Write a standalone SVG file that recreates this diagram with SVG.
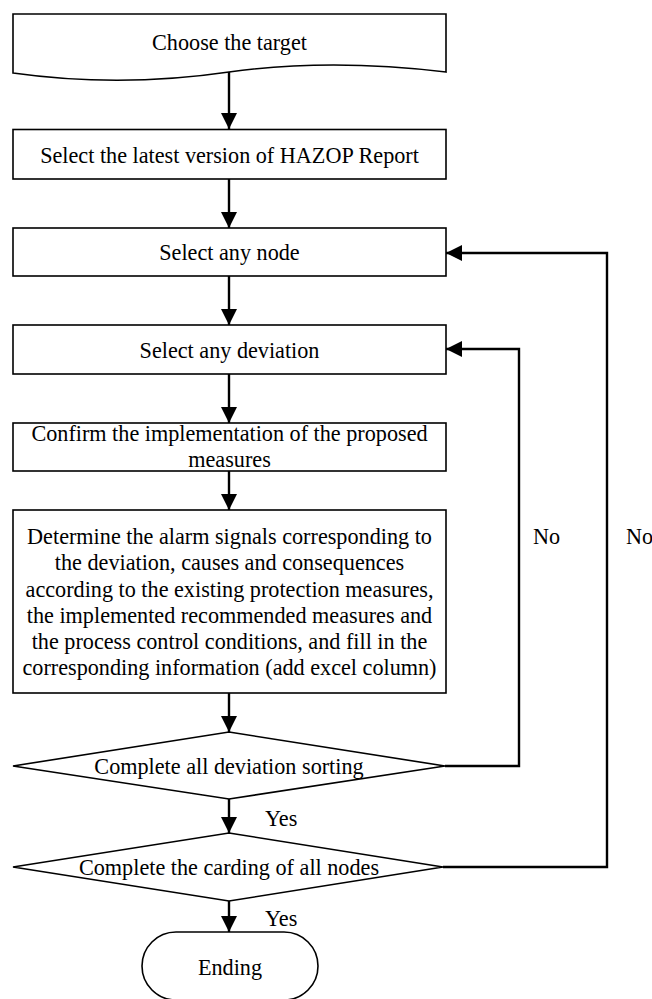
<svg xmlns="http://www.w3.org/2000/svg" width="652" height="999" viewBox="0 0 652 999">
<defs>
<marker id="ah" viewBox="0 0 16 16" refX="16" refY="8" markerWidth="16" markerHeight="16" markerUnits="userSpaceOnUse" orient="auto">
<path d="M0,0 L16,8 L0,16 Z" fill="#000"/>
</marker>
<style>
.shape{fill:#fff;stroke:#000;stroke-width:1.6}
.conn{fill:none;stroke:#000;stroke-width:2.4}
text{font-family:"Liberation Serif","Times New Roman",serif;font-size:22.2px;fill:#000}
.c{text-anchor:middle}
</style>
</defs>
<rect width="652" height="999" fill="#fff"/>
<g id="connectors">
<path class="conn" d="M229,72 V129" marker-end="url(#ah)"/>
<path class="conn" d="M229,179 V228" marker-end="url(#ah)"/>
<path class="conn" d="M229,276 V325" marker-end="url(#ah)"/>
<path class="conn" d="M229,374 V423" marker-end="url(#ah)"/>
<path class="conn" d="M229,471 V510" marker-end="url(#ah)"/>
<path class="conn" d="M229,693 V732" marker-end="url(#ah)"/>
<path class="conn" d="M229,799 V833" marker-end="url(#ah)"/>
<path class="conn" d="M229,901 V932" marker-end="url(#ah)"/>
<path class="conn" d="M445,766 H519 V349 H446" marker-end="url(#ah)"/>
<path class="conn" d="M443,867 H607 V253 H446" marker-end="url(#ah)"/>
<text x="265" y="826">Yes</text>
<text x="265" y="926">Yes</text>
<text x="533" y="544">No</text>
<text x="626" y="544">No</text>
</g>
<g id="n1">
<path class="shape" d="M13,14 H446 V72 Q330,58 229,72 Q120,88 13,73 Z"/>
<text class="c" x="229.5" y="50">Choose the target</text>
</g>
<g id="n2">
<rect class="shape" x="13" y="129.5" width="433" height="49.5"/>
<text class="c" x="229.5" y="163">Select the latest version of HAZOP Report</text>
</g>
<g id="n3">
<rect class="shape" x="13" y="228" width="433" height="48"/>
<text class="c" x="229.5" y="260">Select any node</text>
</g>
<g id="n4">
<rect class="shape" x="13" y="325" width="433" height="49"/>
<text class="c" x="229.5" y="358">Select any deviation</text>
</g>
<g id="n5">
<rect class="shape" x="13" y="423" width="433" height="48"/>
<text class="c" x="229.5" y="441">Confirm the implementation of the proposed</text>
<text class="c" x="229.5" y="467">measures</text>
</g>
<g id="n6">
<rect class="shape" x="13" y="510" width="433" height="183"/>
<text class="c" x="229.5" y="544">Determine the alarm signals corresponding to</text>
<text class="c" x="229.5" y="570">the deviation, causes and consequences</text>
<text class="c" x="229.5" y="597">according to the existing protection measures,</text>
<text class="c" x="229.5" y="623">the implemented recommended measures and</text>
<text class="c" x="229.5" y="649">the process control conditions, and fill in the</text>
<text class="c" x="229.5" y="675">corresponding information (add excel column)</text>
</g>
<g id="d1">
<polygon class="shape" points="229,732 445,766 229,799 13,766"/>
<text class="c" x="229" y="774">Complete all deviation sorting</text>
</g>
<g id="d2">
<polygon class="shape" points="229,833 443,867 229,901 13,867"/>
<text class="c" x="229" y="875">Complete the carding of all nodes</text>
</g>
<g id="end">
<rect class="shape" x="142" y="932" width="176" height="68" rx="34" ry="34"/>
<text class="c" x="230" y="975">Ending</text>
</g>
</svg>
